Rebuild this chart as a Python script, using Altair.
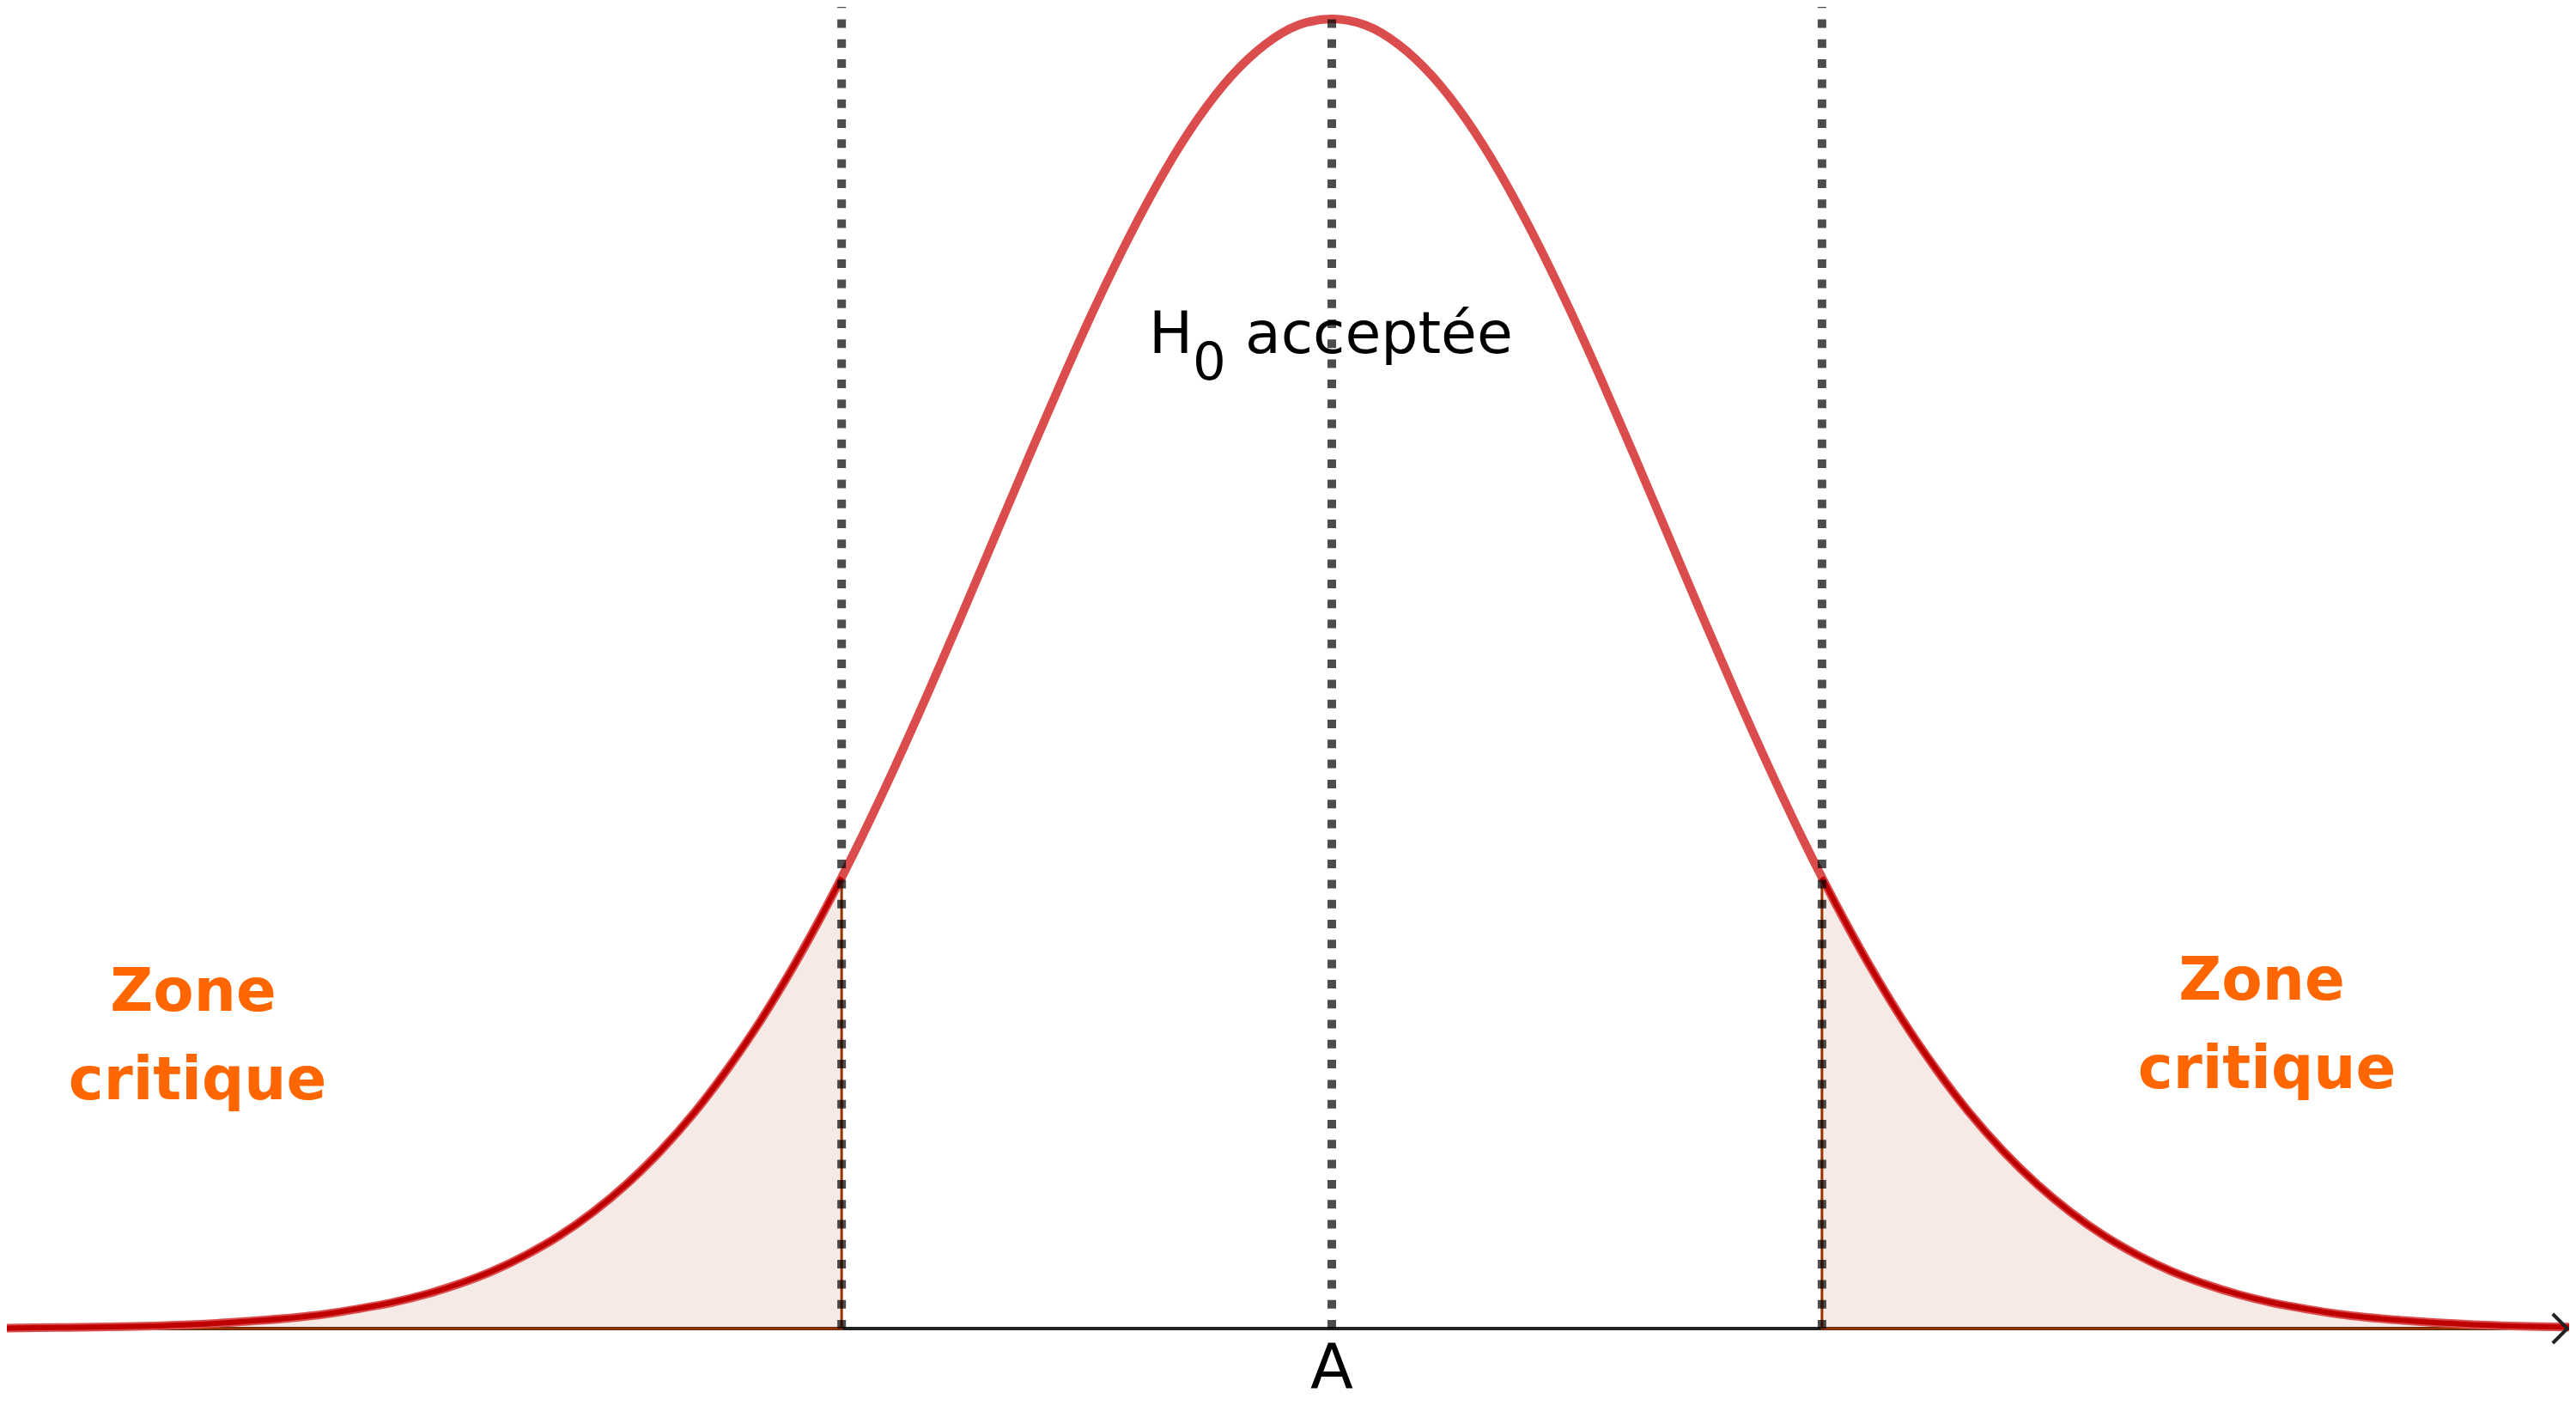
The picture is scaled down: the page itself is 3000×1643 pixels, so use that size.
import altair as alt
import pandas as pd

# ---- data (x in sigma units around A, y = density) ----
half_x = [0.0, 0.1, 0.2, 0.3, 0.4, 0.5, 0.6, 0.7, 0.8, 0.9, 1.0, 1.1, 1.2, 1.3, 1.4,
          1.46, 1.5, 1.6, 1.7, 1.8, 1.9, 2.0, 2.1, 2.2, 2.3, 2.4, 2.5, 2.6, 2.7, 2.8,
          2.9, 3.0, 3.2, 3.4, 3.6, 3.8, 4.0]
half_y = [0.3989, 0.3970, 0.3910, 0.3814, 0.3683, 0.3521, 0.3332, 0.3123, 0.2897,
          0.2661, 0.2420, 0.2179, 0.1942, 0.1714, 0.1497, 0.1374, 0.1295, 0.1109,
          0.0940, 0.0790, 0.0656, 0.0540, 0.0440, 0.0355, 0.0283, 0.0224, 0.0175,
          0.0136, 0.0104, 0.0079, 0.0060, 0.0044, 0.0024, 0.0012, 0.0006, 0.0003,
          0.0001]
# the curve is symmetric about A: left half mirrors the right half
curve_x = [-v for v in reversed(half_x[1:])] + half_x
curve_y = list(reversed(half_y[1:])) + half_y

critical = 1.46
peak = 0.3989
center_label = ["A"]
accept_parts = ["H", "0", "acceptée"]
zone_lines = ["Zone", "critique"]

X_MIN, X_MAX = -3.9463, 3.6854
Y_MIN, Y_MAX = -0.02302, 0.40256
AXIS_END = 3.680

XS = alt.Scale(domain=[X_MIN, X_MAX], nice=False, zero=False)
YS = alt.Scale(domain=[Y_MIN, Y_MAX], nice=False, zero=False)


def X(f):
    return alt.X(f, type="quantitative", scale=XS, axis=None)


def Y(f):
    return alt.Y(f, type="quantitative", scale=YS, axis=None)


curve = pd.DataFrame({"x": curve_x, "y": curve_y})
curve["base"] = 0.0
left = curve[curve["x"] <= -critical]
right = curve[curve["x"] >= critical]

axis_df = pd.DataFrame({"x": [X_MIN], "x2": [AXIS_END], "y": [0.0]})
axis_line = alt.Chart(axis_df).mark_rule(
    color="#222222", strokeWidth=4
).encode(x=X("x"), x2=alt.X2("x2"), y=Y("y"))

arrow_df = pd.DataFrame({"x": [AXIS_END], "y": [0.0]})
arrow = alt.Chart(arrow_df).mark_point(
    shape="M-1,-1L0,0L-1,1", filled=False, size=1156, strokeWidth=4,
    color="#222222", opacity=1
).encode(x=X("x"), y=Y("y"))


def tail_area(df):
    return alt.Chart(df).mark_area(
        fill="#993300", fillOpacity=0.1, stroke="#993300", strokeWidth=3,
        interpolate="monotone", clip=True
    ).encode(x=X("x"), y=Y("y"), y2=alt.Y2("base"))


main_curve = alt.Chart(curve).mark_line(
    color="#DB4D4D", strokeWidth=10, interpolate="monotone", clip=True
).encode(x=X("x"), y=Y("y"))


def tail_line(df):
    return alt.Chart(df).mark_line(
        color="#BF0000", strokeWidth=6, interpolate="monotone", clip=True
    ).encode(x=X("x"), y=Y("y"))


rules_df = pd.DataFrame({"x": [-critical, 0.0, critical],
                         "base": [0.0, 0.0, 0.0],
                         "top": [Y_MAX, peak, Y_MAX]})
dotted = alt.Chart(rules_df).mark_rule(
    color="black", opacity=0.7, strokeWidth=10, strokeDash=[10, 13.3], strokeCap="butt"
).encode(x=X("x"), y=Y("base"), y2=alt.Y2("top"))


def label(text, x, y, size, color="black", bold=False, align="left"):
    df = pd.DataFrame({"t": [text], "x": [x], "y": [y]})
    return alt.Chart(df).mark_text(
        font="DejaVu Sans", fontSize=size, fontWeight="bold" if bold else "normal",
        color=color, align=align, baseline="alphabetic"
    ).encode(x=X("x"), y=Y("y"), text=alt.Text("t", type="nominal"))


ORANGE = "#FF6600"
texts = [
    label(accept_parts[0], -0.5448, 0.29715, 68),
    label(accept_parts[1], -0.4143, 0.28904, 61),
    label(accept_parts[2], -0.2583, 0.29715, 68),
    label(center_label[0], 0.0, -0.01831, 73, align="center"),
    label(zone_lines[0], -3.3913, 0.09678, 69, ORANGE, True, "center"),
    label(zone_lines[1], -3.3785, 0.06984, 69, ORANGE, True, "center"),
    label(zone_lines[0], 2.7698, 0.10018, 69, ORANGE, True, "center"),
    label(zone_lines[1], 2.7852, 0.07324, 69, ORANGE, True, "center"),
]

chart = alt.layer(
    axis_line,
    tail_area(left),
    tail_area(right),
    main_curve,
    tail_line(left),
    tail_line(right),
    dotted,
    arrow,
    *texts,
).properties(
    width=2984, height=1627, padding=0,
    autosize=alt.AutoSizeParams(type="none"), background="white"
).configure_view(stroke=None)

chart.save("out.html", embed_options={"renderer": "svg", "actions": False})
